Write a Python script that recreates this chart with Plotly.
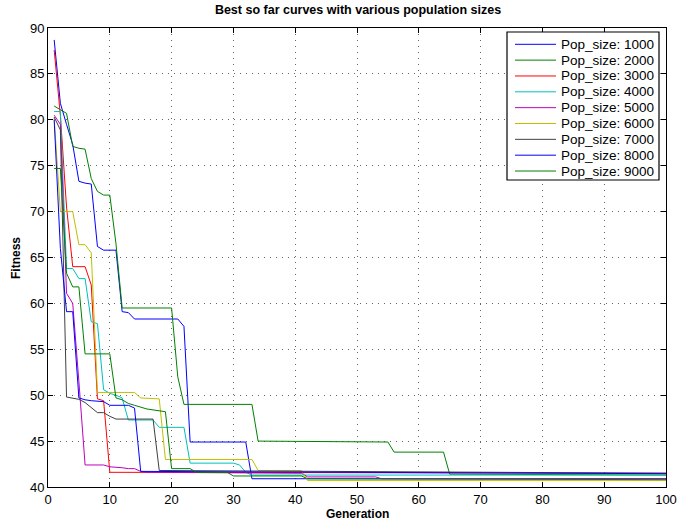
import plotly.graph_objects as go

# Breakpoints (generation, best-so-far fitness)
names = ["Pop_size: 1000", "Pop_size: 2000", "Pop_size: 3000", "Pop_size: 4000",
         "Pop_size: 5000", "Pop_size: 6000", "Pop_size: 7000", "Pop_size: 8000",
         "Pop_size: 9000"]

gen_1000 = [1, 2, 3, 4, 5, 6, 7, 8, 9, 11, 12, 13, 14, 21, 22, 23, 32, 33, 100]
fit_1000 = [88.7, 81.8, 79.5, 77.3, 73.3, 73.1, 73.0, 66.2, 65.8, 65.8, 59.1, 59.0, 58.3, 58.3, 57.5, 44.9, 44.9, 40.9, 40.9]

gen_2000 = [1, 2, 3, 4, 5, 6, 7, 8, 9, 10, 11, 12, 20, 21, 22, 33, 34, 55, 56, 64, 65, 100]
fit_2000 = [81.5, 81.1, 80.7, 77.1, 76.9, 76.8, 73.6, 72.2, 71.8, 71.8, 66.5, 59.5, 59.5, 52.0, 49.0, 49.0, 45.0, 44.9, 43.8, 43.8, 41.4, 41.3]

gen_3000 = [1, 2, 3, 4, 6, 7, 8, 9, 10, 100]
fit_3000 = [87.6, 80.5, 70.5, 64.0, 64.0, 62.0, 49.6, 49.4, 41.6, 41.5]

gen_4000 = [1, 2, 3, 4, 5, 6, 7, 8, 9, 10, 11, 12, 13, 17, 18, 22, 23, 30, 31, 32, 33, 100]
fit_4000 = [80.9, 80.9, 63.8, 63.8, 62.7, 62.7, 58.0, 57.8, 50.6, 50.2, 50.0, 49.7, 47.3, 47.3, 46.5, 46.5, 42.6, 42.6, 42.4, 41.6, 41.3, 41.3]

gen_5000 = [1, 2, 3, 4, 5, 6, 9, 10, 12, 13, 14, 15, 16, 41, 42, 53, 54, 100]
fit_5000 = [80.5, 79.5, 61.1, 60.0, 51.5, 42.4, 42.4, 42.2, 42.1, 42.0, 42.0, 41.7, 41.6, 41.5, 41.1, 41.1, 40.9, 40.9]

gen_6000 = [1, 2, 4, 5, 6, 7, 8, 14, 15, 18, 19, 33, 34, 41, 42, 100]
fit_6000 = [80.2, 70.0, 70.0, 66.4, 66.4, 65.5, 50.3, 50.3, 49.7, 49.6, 43.0, 43.0, 41.8, 41.8, 40.7, 40.7]

gen_7000 = [1, 2, 3, 4, 5, 6, 7, 8, 9, 10, 11, 17, 18, 100]
fit_7000 = [80.3, 78.9, 49.8, 49.7, 49.55, 49.2, 48.7, 48.1, 48.1, 47.7, 47.4, 47.4, 41.8, 41.5]

gen_8000 = [1, 2, 3, 4, 5, 6, 7, 9, 10, 13, 14, 15, 100]
fit_8000 = [80.0, 66.0, 59.1, 59.1, 49.7, 49.5, 49.4, 49.3, 48.9, 48.9, 48.6, 41.7, 41.45]

gen_9000 = [1, 2, 3, 4, 5, 6, 10, 11, 12, 13, 14, 16, 19, 20, 23, 24, 29, 30, 41, 42, 100]
fit_9000 = [74.7, 74.7, 63.3, 61.8, 61.8, 54.5, 54.5, 49.7, 49.5, 49.1, 48.9, 48.5, 48.2, 42.0, 42.0, 41.6, 41.6, 41.2, 41.2, 40.9, 40.8]

x_ticks = [0, 10, 20, 30, 40, 50, 60, 70, 80, 90, 100]
y_ticks = [40, 45, 50, 55, 60, 65, 70, 75, 80, 85, 90]

colors = ["#0000FF", "#008000", "#FF0000", "#00BFBF", "#BF00BF",
          "#BFBF00", "#404040", "#0000FF", "#008000"]

series = [(gen_1000, fit_1000), (gen_2000, fit_2000), (gen_3000, fit_3000),
          (gen_4000, fit_4000), (gen_5000, fit_5000), (gen_6000, fit_6000),
          (gen_7000, fit_7000), (gen_8000, fit_8000), (gen_9000, fit_9000)]

W, H = 678, 522
ML, MR, MT, MB = 48, 12, 28, 35
PW, PH = W - ML - MR, H - MT - MB

def px_x(px):
    return (px - ML) / PW

def px_y(py):
    return (H - MB - py) / PH

fig = go.Figure()
for name, (g, f), c in zip(names, series, colors):
    fig.add_trace(go.Scatter(x=g, y=f, mode="lines", name=name, showlegend=False,
                             line=dict(color=c, width=1)))

font_family = "Liberation Sans, Arial, Helvetica, sans-serif"
axis_common = dict(
    showline=True, linecolor="black", linewidth=1, mirror="ticks",
    ticks="inside", ticklen=5, tickcolor="black", automargin=False,
    showgrid=True, gridcolor="rgba(0,0,0,0.6)", griddash="1px,5px", gridwidth=1,
    zeroline=False, tickfont=dict(family=font_family, size=13, color="black"),
)

# Legend box (MATLAB style) built from names / colors
shapes = []
annotations = []
box_l, box_r, box_t, box_b = 507, 659, 32, 180
shapes.append(dict(type="rect", xref="paper", yref="paper",
                   x0=px_x(box_l), x1=px_x(box_r), y0=px_y(box_b), y1=px_y(box_t),
                   line=dict(color="black", width=1.2), fillcolor="white", layer="above"))
row0, row_gap = 44.3, 15.84
for i, (name, c) in enumerate(zip(names, colors)):
    yc = row0 + i * row_gap
    shapes.append(dict(type="line", xref="paper", yref="paper",
                       x0=px_x(515), x1=px_x(556), y0=px_y(yc), y1=px_y(yc),
                       line=dict(color=c, width=1), layer="above"))
    annotations.append(dict(text=name, xref="paper", yref="paper",
                            x=px_x(559), y=px_y(yc), xanchor="left", yanchor="middle",
                            showarrow=False, font=dict(size=13.5, family=font_family, color="black")))

annotations.append(dict(text="<b>Generation</b>", xref="paper", yref="paper",
                        x=px_x(357), y=px_y(514), xanchor="center", yanchor="middle",
                        showarrow=False, font=dict(size=12, family=font_family, color="black")))
annotations.append(dict(text="<b>Fitness</b>", xref="paper", yref="paper",
                        x=px_x(16), y=px_y(258), xanchor="center", yanchor="middle",
                        textangle=-90, showarrow=False,
                        font=dict(size=12, family=font_family, color="black")))

fig.update_layout(
    width=W, height=H,
    margin=dict(l=ML, r=MR, t=MT, b=MB),
    paper_bgcolor="white", plot_bgcolor="white",
    font=dict(family=font_family, color="black"),
    title=dict(text="<b>Best so far curves with various population sizes</b>",
               x=px_x(358), xref="paper", xanchor="center", y=1 - 10 / H, yanchor="middle",
               yref="container", font=dict(size=12.5, family=font_family)),
    xaxis=dict(range=[0, 100], tickvals=x_ticks, **axis_common),
    yaxis=dict(range=[40, 90], tickvals=y_ticks, **axis_common),
    shapes=shapes,
    annotations=annotations,
    showlegend=False,
)

fig.write_html("out.html", config={"displayModeBar": False},
               post_script="document.body.style.margin='0';document.body.style.overflow='hidden';")
